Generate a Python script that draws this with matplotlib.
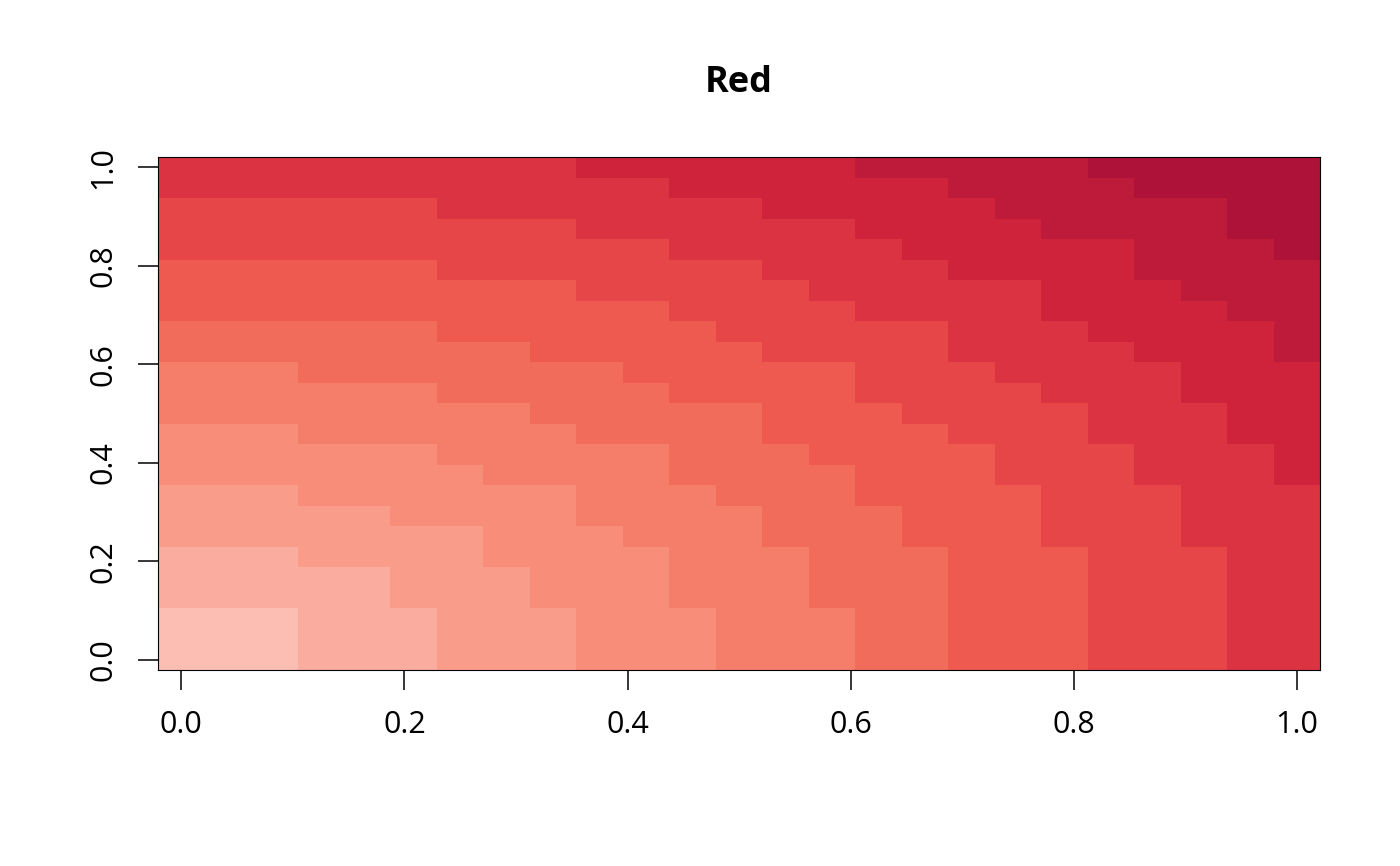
import numpy as np
import matplotlib
matplotlib.use('Agg')
import matplotlib.pyplot as plt
from matplotlib.colors import ListedColormap, BoundaryNorm

rows = [
    "0001112223334445566677788",
    "0001112223334445566677788",
    "0001112223334445566677788",
    "1111122233344455566677788",
    "1111122233344455566677788",
    "1112222333344455566677788",
    "2222222333444555666777888",
    "2222233334444555666777888",
    "2223333334445556666777888",
    "3333333444455556667778889",
    "3333334444455566667778889",
    "3334444445555666677788899",
    "4444444455555666777788899",
    "4444445555566667777888999",
    "4445555555666667778888999",
    "555555556666677778888999a",
    "555555666666777778889999a",
    "66666666666777788889999aa",
    "6666666667777788888999aaa",
    "666666777777788889999aaaa",
    "777777777778888899999aaab",
    "7777777778888889999aaaabb",
    "777777888888899999aaaaabb",
    "88888888888999999aaaabbbb",
    "888888888999999aaaaabbbbb",
]
palette = ['#FCBDB2', '#FAAD9E', '#FA9C8A', '#F88D79', '#F57E6A', '#F26C5B',
           '#EE5A4F', '#E64648', '#DB3341', '#CE233B', '#BE1A3A', '#AE1238']
x = np.linspace(0, 1, 25)
y = np.linspace(0, 1, 25)
ticks = [0.0, 0.2, 0.4, 0.6, 0.8, 1.0]
tick_labels = ['0.0', '0.2', '0.4', '0.6', '0.8', '1.0']

z = np.array([[int(c, 16) for c in r] for r in rows])

plt.rcParams['font.family'] = ['Open Sans', 'DejaVu Sans']

fig = plt.figure(figsize=(14, 8.66), dpi=100)
ax = fig.add_axes([0.1129, 0.2263, 0.8300, 0.5924])

cmap = ListedColormap(palette)
norm = BoundaryNorm(np.arange(-0.5, len(palette) + 0.5), cmap.N)
ax.pcolormesh(x, y, z, cmap=cmap, norm=norm, shading='nearest')

half = 0.5 / 24
ax.set_xlim(-half, 1 + half)
ax.set_ylim(-half, 1 + half)
ax.set_xticks(ticks)
ax.set_xticklabels(tick_labels)
ax.set_yticks(ticks)
ax.set_yticklabels(tick_labels, rotation=90, va='center')
ax.tick_params(length=14.5, width=1.1, labelsize=22, pad=14, color='black')
for s in ax.spines.values():
    s.set_linewidth(0.8)

ax.set_title('Red', fontsize=26, fontweight='bold', pad=47)

fig.savefig('out.png', dpi=100)
